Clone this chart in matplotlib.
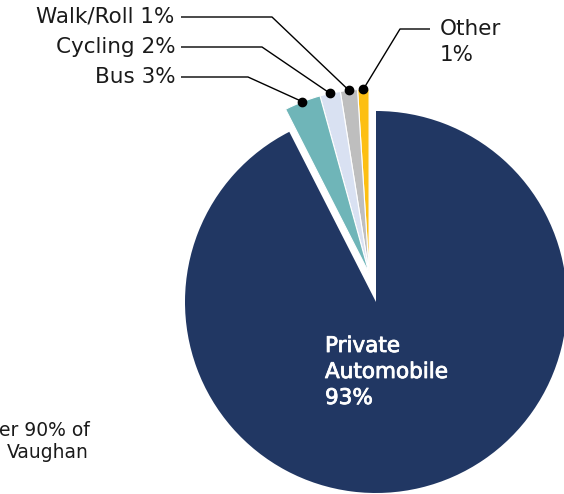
import matplotlib
matplotlib.use("Agg")
import matplotlib.pyplot as plt
import matplotlib.patheffects as pe
import numpy as np

# ---- data ----
categories = ["Other", "Walk/Roll", "Cycling", "Bus", "Private Automobile"]
shares = [1.0, 1.5, 1.8, 3.2, 92.5]   # slice sizes
labels = ["Other\n1%", "Walk/Roll 1%", "Cycling 2%", "Bus 3%", "Private\nAutomobile\n93%"]
colors = ["#FDBF12", "#BEBEBE", "#D9E1F2", "#6FB5B8", "#213763"]

W, H = 564, 494
plt.rcParams['font.family'] = ['DejaVu Sans']

fig = plt.figure(figsize=(W / 100, H / 100), dpi=100)
ax = fig.add_axes([0, 0, 1, 1])

R = 191
cx, cy = 376, H - 302
small_r = 184
wedges, _ = ax.pie(shares, colors=colors, startangle=90, counterclock=True,
                   radius=R, center=(cx, cy),
                   wedgeprops=dict(edgecolor='white', linewidth=0.8),
                   frame=True)
ax.set_xlim(0, W)
ax.set_ylim(0, H)
ax.set_aspect('equal')
ax.axis('off')
wedges[4].set_edgecolor('none')

# explode the small slices together as one group
g1 = min(w.theta1 for w in wedges[:4])
g2 = max(w.theta2 for w in wedges[:4])
gmid = np.deg2rad((g1 + g2) / 2)
off = 0.155 * R
gcx, gcy = cx + off * np.cos(gmid), cy + off * np.sin(gmid)
for w in wedges[:4]:
    w.set_radius(small_r)
    w.set_center((gcx, gcy))

# leader lines: (label text anchor, elbow point) in pixel coordinates (y from top)
label_layout = {
    "Walk/Roll 1%": dict(text=(174, 17), elbow=(272, 17), hstart=181),
    "Cycling 2%": dict(text=(176, 47), elbow=(262, 47), hstart=181),
    "Bus 3%": dict(text=(176, 77), elbow=(248, 77), hstart=181),
    "Other\n1%": dict(text=(440, 29), elbow=(400, 29), hstart=430),
}

FS = 15.5
for w, lab in zip(wedges[:4], labels[:4]):
    mid = np.deg2rad((w.theta1 + w.theta2) / 2)
    dx = gcx + small_r * 1.0 * np.cos(mid)
    dy = gcy + small_r * 1.0 * np.sin(mid)
    lay = label_layout[lab]
    ex, ey = lay['elbow'][0], H - lay['elbow'][1]
    hx = lay['hstart']
    ax.plot([dx, ex, hx], [dy, ey, ey], color='black', lw=1.0, solid_capstyle='butt', zorder=5)
    ax.plot([dx], [dy], 'o', color='black', ms=6, zorder=6)
    tx, ty = lay['text'][0], H - lay['text'][1]
    if lab.startswith("Other"):
        ax.text(tx, ty, "Other", ha='left', va='center', fontsize=FS, color='#1a1a1a')
        ax.text(tx, ty - 26, "1%", ha='left', va='center', fontsize=FS, color='#1a1a1a')
    else:
        ax.text(tx, ty, lab, ha='right', va='center', fontsize=FS, color='#1a1a1a')

# main slice label
for i, line in enumerate(labels[4].split("\n")):
    ax.text(325, H - 346 - 26 * i, line, ha='left', va='center', fontsize=15.5,
            color='white',
            path_effects=[pe.withStroke(linewidth=0.6, foreground='white')])

# cropped side text
ax.text(90, H - 430, "er 90% of", ha='right', va='center', fontsize=13.5, color='#1a1a1a')
ax.text(89, H - 453, "Vaughan", ha='right', va='center', fontsize=13.5, color='#1a1a1a')

fig.savefig("out.png", dpi=100)
